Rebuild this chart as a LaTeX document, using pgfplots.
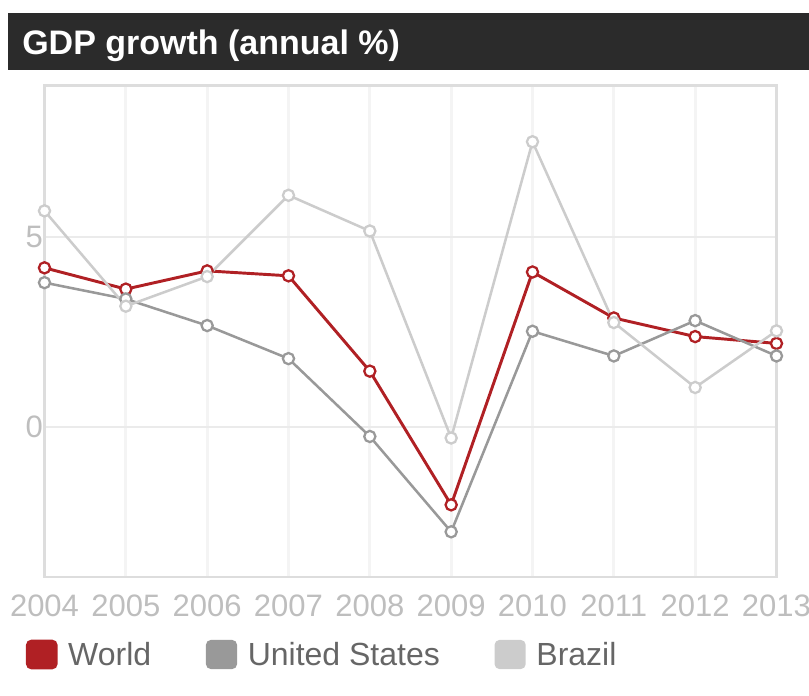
\documentclass[border=0pt]{standalone}
\usepackage{pgfplots}
\pgfplotsset{compat=1.18}
\usepackage{fontspec}
\setmainfont{Liberation Sans}
\definecolor{worldred}{RGB}{176,32,36}
\definecolor{usgray}{RGB}{153,153,153}
\definecolor{brgray}{RGB}{204,204,204}
\definecolor{titlebg}{RGB}{43,43,43}
\definecolor{framegray}{RGB}{221,221,221}
\definecolor{vgrid}{RGB}{244,244,244}
\definecolor{hgrid}{RGB}{235,235,235}
\definecolor{ticklab}{RGB}{190,190,190}
\definecolor{legtext}{RGB}{102,102,102}
\begin{document}
\begin{tikzpicture}[x=0.75pt,y=0.75pt]
\useasboundingbox (0,0) rectangle (809,695);
\fill[titlebg] (8,625) rectangle (809,682.3);
\node[anchor=base west, inner sep=0pt, text=white, font=\bfseries\fontsize{25.5pt}{30pt}\selectfont] at (22,640) {GDP growth (annual \%)};
\begin{axis}[
  at={(33.375pt,88.5pt)}, anchor=south west,
  scale only axis, width=549pt, height=368.6pt,
  xmin=2004, xmax=2013, ymin=-3.95, ymax=8.99,
  xtick={2004,...,2013}, ytick={0,5},
  major tick length=0pt, tick style={draw=none},
  axis line style={draw=framegray, line width=2pt},
  grid=major,
  major x grid style={draw=vgrid, line width=2.25pt},
  major y grid style={draw=hgrid, line width=1.5pt},
  ticklabel style={font=\fontsize{23.25pt}{28pt}\selectfont, text=ticklab, inner sep=0pt},
  xticklabel style={yshift=-13.5pt},
  yticklabel style={xshift=-1pt},
  /pgf/number format/assume math mode=true,
  /pgf/number format/1000 sep={},
  legend columns=3,
  legend image code/.code={\fill[#1, rounded corners=3pt] (0pt,-10pt) rectangle (21.5pt,10pt);},
  legend style={at={(axis description cs:-0.0253,-0.1577)}, anchor=west, draw=none, fill=none,
    inner sep=0pt, outer sep=0pt, font=\fontsize{24pt}{29pt}\selectfont, text=legtext,
    nodes={inner sep=0pt},
    /tikz/every odd column/.append style={column sep=8pt},
    /tikz/every even column/.append style={column sep=41pt}},
]
\addplot[color=worldred, line width=2.2pt, mark=*, mark size=4.2pt, mark options={fill=white, line width=1.7pt}]
  coordinates {(2004,4.19) (2005,3.63) (2006,4.11) (2007,3.98) (2008,1.47) (2009,-2.05) (2010,4.08) (2011,2.87) (2012,2.38) (2013,2.2)};
\addlegendentry{World}
\addplot[color=usgray, line width=1.9pt, mark=*, mark size=4.2pt, mark options={fill=white, line width=1.7pt}]
  coordinates {(2004,3.8) (2005,3.37) (2006,2.67) (2007,1.8) (2008,-0.25) (2009,-2.76) (2010,2.52) (2011,1.87) (2012,2.8) (2013,1.87)};
\addlegendentry{United States}
\addplot[color=brgray, line width=1.9pt, mark=*, mark size=4.2pt, mark options={fill=white, line width=1.7pt}]
  coordinates {(2004,5.69) (2005,3.18) (2006,3.96) (2007,6.1) (2008,5.16) (2009,-0.29) (2010,7.51) (2011,2.75) (2012,1.04) (2013,2.53)};
\addlegendentry{Brazil}
\end{axis}
\end{tikzpicture}
\end{document}
